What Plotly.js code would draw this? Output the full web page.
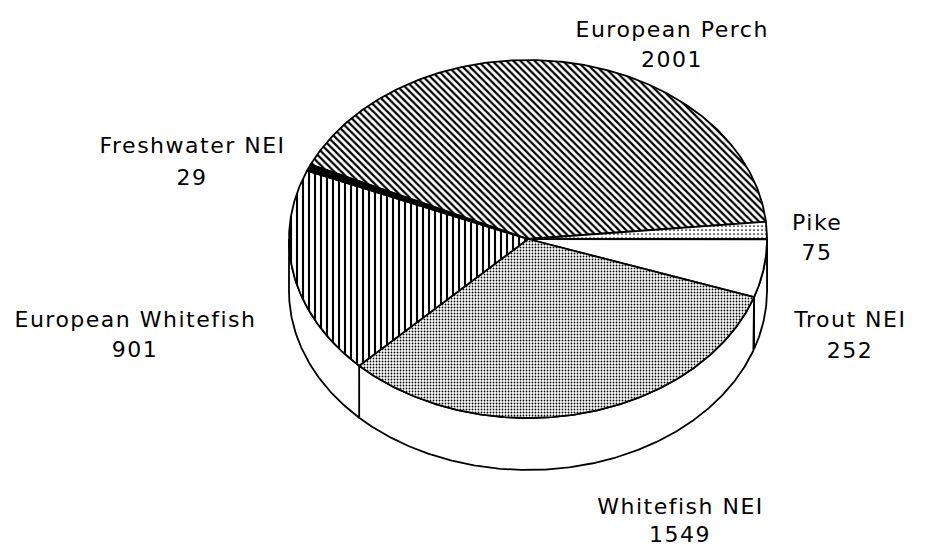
<!DOCTYPE html>
<html>
<head>
<meta charset="utf-8">
<script src="https://cdn.plot.ly/plotly-3.0.1.min.js"></script>
<style>
html,body{margin:0;padding:0;background:#fff;}
#chart{width:925px;height:554px;}
#chart .annotation-text{letter-spacing:1.5px;}
</style>
</head>
<body>
<div id="chart"></div>
<script>
// ---- data ----
const categories = ['European Perch', 'Pike', 'Trout NEI', 'Whitefish NEI', 'European Whitefish', 'Freshwater NEI'];
const values = [2001, 75, 252, 1549, 901, 29];

// ---- style / layout ----
const cx = 528, cy = 239, rx = 239, ry = 179, depth = 52;
const rotation = 155.4; // angle (deg) where the first slice begins, going clockwise
const patterns = [
  {shape: '\\', size: 5, solidity: 0.45, fgcolor: '#000', bgcolor: '#fff'},
  {shape: '.', size: 4, solidity: 0.15, fgcolor: '#000', bgcolor: '#fff'},
  null,
  {shape: '.', size: 3, solidity: 0.3, fgcolor: '#000', bgcolor: '#fff'},
  {shape: '|', size: 6, solidity: 0.35, fgcolor: '#000', bgcolor: '#fff'},
  null
];
const fills = ['#fff', '#fff', '#fff', '#fff', '#fff', '#000'];
const labelPos = [
  {x: 672, y1: 37, y2: 67},
  {x: 817, y1: 230, y2: 260},
  {x: 850, y1: 327, y2: 358},
  {x: 680, y1: 514, y2: 542},
  {x: 135, y1: 327, y2: 357},
  {x: 192, y1: 153, y2: 185}
];
const fontFamily = 'DejaVu Sans, Arial, sans-serif';
const fontSize = 22;

function pt(tDeg, dy) {
  const t = tDeg * Math.PI / 180;
  return [cx + rx * Math.cos(t), cy - ry * Math.sin(t) + (dy || 0)];
}
function arc(a0, a1, dy) {
  const n = Math.max(2, Math.ceil(Math.abs(a1 - a0) * 2));
  const out = [];
  for (let i = 0; i <= n; i++) out.push(pt(a0 + (a1 - a0) * i / n, dy));
  return out;
}

const total = values.reduce((s, v) => s + v, 0);
const bounds = [];
let cum = 0;
for (let i = 0; i < values.length; i++) {
  const aStart = rotation - 360 * cum / total;
  cum += values[i];
  const aEnd = rotation - 360 * cum / total;
  bounds.push([aStart, aEnd]);
}

const traces = [];
// side walls (front half only)
bounds.forEach(([aStart, aEnd]) => {
  for (let k = -1; k <= 1; k++) {
    const lo = Math.max(aEnd, -180 + 360 * k);
    const hi = Math.min(aStart, 360 * k);
    if (hi > lo) {
      const top = arc(lo, hi, 0);
      const bot = arc(hi, lo, depth);
      const poly = top.concat(bot);
      poly.push(top[0]);
      traces.push({
        type: 'scatter', mode: 'lines', x: poly.map(p => p[0]), y: poly.map(p => p[1]),
        fill: 'toself', fillcolor: '#fff', line: {color: '#000', width: 1.8},
        hoverinfo: 'skip', showlegend: false
      });
    }
  }
});
// top face slices
bounds.forEach(([aStart, aEnd], i) => {
  const poly = [[cx, cy]].concat(arc(aStart, aEnd, 0));
  poly.push([cx, cy]);
  const tr = {
    type: 'scatter', mode: 'lines', name: categories[i],
    x: poly.map(p => p[0]), y: poly.map(p => p[1]),
    fill: 'toself', fillcolor: fills[i], line: {color: '#000', width: 1.8},
    hoverinfo: 'skip', showlegend: false
  };
  if (patterns[i]) tr.fillpattern = patterns[i];
  traces.push(tr);
});

const annotations = [];
categories.forEach((c, i) => {
  const p = labelPos[i];
  annotations.push({x: p.x, y: p.y1 - 8, xref: 'x', yref: 'y', text: c, showarrow: false,
    xanchor: 'center', yanchor: 'middle', font: {family: fontFamily, size: fontSize, color: '#000'}});
  annotations.push({x: p.x, y: p.y2 - 8, xref: 'x', yref: 'y', text: String(values[i]), showarrow: false,
    xanchor: 'center', yanchor: 'middle', font: {family: fontFamily, size: fontSize, color: '#000'}});
});

const layout = {
  width: 925, height: 554,
  margin: {l: 0, r: 0, t: 0, b: 0, pad: 0},
  paper_bgcolor: '#fff', plot_bgcolor: '#fff',
  xaxis: {range: [0, 925], visible: false, fixedrange: true},
  yaxis: {range: [554, 0], visible: false, fixedrange: true},
  showlegend: false,
  annotations: annotations
};
Plotly.newPlot('chart', traces, layout, {displayModeBar: false, staticPlot: true});
</script>
</body>
</html>
